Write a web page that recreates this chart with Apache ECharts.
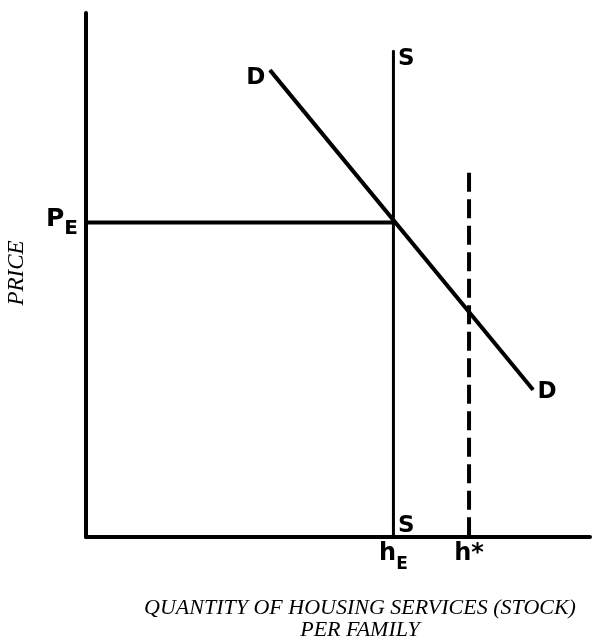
<!DOCTYPE html>
<html>
<head>
<meta charset="utf-8">
<script src="https://cdn.jsdelivr.net/npm/echarts@6/dist/echarts.min.js"></script>
<style>
  html, body { margin: 0; padding: 0; background: #fff; }
  #chart { width: 595px; height: 643px; }
</style>
</head>
<body>
<div id="chart"></div>
<script>
// curve endpoints, in axis units (0..100 on both axes)
var demandPts = [[36.5, 89.1], [88.7, 28.1]];
var supplyPts = [[61, 0], [61, 92.9]];
var pricePts = [[0, 60], [61, 60]];
var hStarPts = [[76, 69.5], [76, 0]];
var xTickValues = [61, 76];
var yTickValues = [60];

var markFont = 'DejaVu Sans';
var nameFont = 'Liberation Serif';

function endLabel(text, pos, offset) {
	return {
		show: true, formatter: text, position: pos, distance: 4, offset: offset,
		color: '#000', fontFamily: markFont, fontWeight: 'bold', fontSize: 23
	};
}

var chart = echarts.init(document.getElementById('chart'));
var option = {
	animation: false,
	grid: { left: 86, right: 5, top: 13, bottom: 106, containLabel: false, outerBoundsMode: 'none' },
	xAxis: {
		type: 'value', min: 0, max: 100,
		name: 'QUANTITY OF HOUSING SERVICES (STOCK)\nPER FAMILY',
		nameLocation: 'middle', nameGap: 60,
		nameTextStyle: {
			fontFamily: nameFont, fontStyle: 'italic', fontSize: 22, lineHeight: 22,
			color: '#000', padding: [0, 0, 0, 44]
		},
		axisLine: { lineStyle: { color: '#000', width: 4 } },
		axisTick: { show: false },
		splitLine: { show: false },
		axisLabel: {
			customValues: xTickValues, margin: 5, color: '#000',
			formatter: function (v) { return v === 61 ? '{h|h}{sub|E}' : '{h|h*}'; },
			rich: {
				h: { fontFamily: markFont, fontWeight: 'bold', fontSize: 24, color: '#000', verticalAlign: 'top' },
				sub: { fontFamily: markFont, fontWeight: 'bold', fontSize: 17, color: '#000', verticalAlign: 'top', padding: [14, 0, 0, 0] }
			}
		}
	},
	yAxis: {
		type: 'value', min: 0, max: 100,
		name: 'PRICE', nameLocation: 'middle', nameRotate: 90, nameGap: 58,
		nameTextStyle: { fontFamily: nameFont, fontStyle: 'italic', fontSize: 23, color: '#000', padding: [0, 0, 0, 4] },
		axisLine: { lineStyle: { color: '#000', width: 4 } },
		axisTick: { show: false },
		splitLine: { show: false },
		axisLabel: {
			customValues: yTickValues, margin: 8, color: '#000',
			formatter: function () { return '{p|P}{sub|E}'; },
			rich: {
				p: { fontFamily: markFont, fontWeight: 'bold', fontSize: 25, color: '#000', verticalAlign: 'top' },
				sub: { fontFamily: markFont, fontWeight: 'bold', fontSize: 20, color: '#000', verticalAlign: 'top', padding: [12, 0, 0, 0] }
			}
		}
	},
	series: [
		{
			type: 'line', symbol: 'circle', symbolSize: 1, silent: true,
			lineStyle: { color: '#000', width: 4 }, itemStyle: { color: '#000' },
			data: [
				{ value: demandPts[0], label: endLabel('D', 'left', [0, 8]) },
				{ value: demandPts[1], label: endLabel('D', 'right', [0, 2]) }
			]
		},
		{
			type: 'line', symbol: 'circle', symbolSize: 1, silent: true,
			lineStyle: { color: '#000', width: 3 }, itemStyle: { color: '#000' },
			data: [
				{ value: supplyPts[0], label: endLabel('S', 'right', [0, -11]) },
				{ value: supplyPts[1], label: endLabel('S', 'right', [0, 9]) }
			]
		},
		{
			type: 'line', symbol: 'none', silent: true,
			lineStyle: { color: '#000', width: 4 },
			data: pricePts
		},
		{
			type: 'line', symbol: 'none', silent: true,
			lineStyle: { color: '#000', width: 4, type: [19, 7.5] },
			data: hStarPts
		}
	]
};
chart.setOption(option);
</script>
</body>
</html>
